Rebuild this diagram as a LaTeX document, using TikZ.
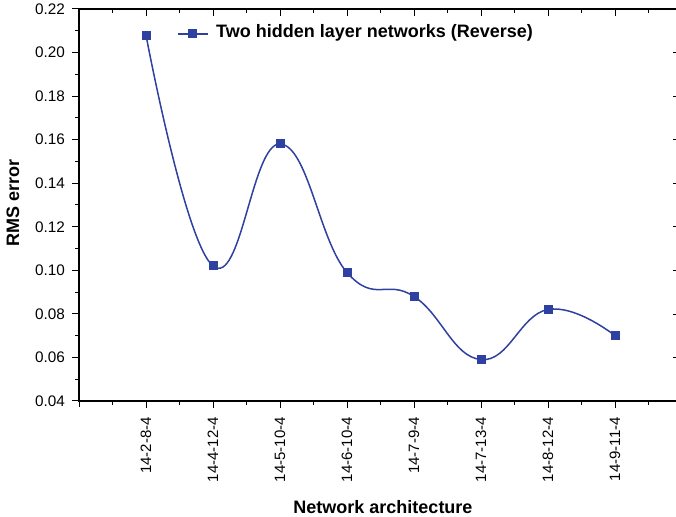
\documentclass[tikz,border=0pt]{standalone}
\usepackage{fontspec}
\setmainfont{Liberation Sans}
\definecolor{dblue}{RGB}{46,64,160}
\begin{document}
\begin{tikzpicture}[x=1pt,y=1pt,
  axis/.style={line width=1.2pt,black},
  tk/.style={line width=1pt,black},
  ticklab/.style={font=\fontsize{15.3}{16}\selectfont,inner sep=0pt},
  xlab/.style={font=\fontsize{15}{16}\selectfont,inner sep=0pt,rotate=90,anchor=east},
  title/.style={font=\bfseries\fontsize{18}{19}\selectfont,inner sep=0pt},
  marker/.style={draw=none,fill=dblue,minimum size=9pt,inner sep=0pt,rectangle},
  dataline/.style={dblue,line width=1.5pt}]
\useasboundingbox (0,0) rectangle (676,516);
% axes
\coordinate (bl) at (79,115);
\coordinate (br) at (676,115);
\coordinate (tl) at (79,507);
\coordinate (tr) at (676,507);
\draw[axis] (tl) -- (bl) -- (br);
\draw[axis] (tl) -- (tr);
% y ticks
\foreach \v/\l in {0.04/0.04,0.06/0.06,0.08/0.08,0.10/0.10,0.12/0.12,0.14/0.14,0.16/0.16,0.18/0.18,0.20/0.20,0.22/0.22}{
  \pgfmathsetmacro\yy{115+(\v-0.04)*2177.8}
  \draw[tk] (79,\yy) -- (72,\yy);
  \draw[tk,line width=0.7pt] (676,\yy) -- (673,\yy);
  \node[ticklab,anchor=east] (yl\l) at (65,\yy) {\l};
}
\foreach \v in {0.05,0.07,0.09,0.11,0.13,0.15,0.17,0.19,0.21}{
  \pgfmathsetmacro\yy{115+(\v-0.04)*2177.8}
  \draw[tk] (79,\yy) -- (75,\yy);
}
% x ticks
\foreach \i in {1,...,8}{
  \pgfmathsetmacro\xx{79+67*\i}
  \draw[tk] (\xx,115) -- (\xx,108);
  \draw[tk] (\xx,507) -- (\xx,500);
}
\foreach \i in {0.5,1.5,2.5,3.5,4.5,5.5,6.5,7.5,8.5}{
  \pgfmathsetmacro\xx{79+67*\i}
  \draw[tk] (\xx,115) -- (\xx,111);
  \draw[tk] (\xx,507) -- (\xx,503);
}
\draw[tk] (79,115) -- (79,109);
% x labels
\foreach \i/\l in {1/14-2-8-4,2/14-4-12-4,3/14-5-10-4,4/14-6-10-4,5/14-7-9-4,6/14-7-13-4,7/14-8-12-4,8/14-9-11-4}{
  \pgfmathsetmacro\xx{79+67*\i}
  \node[xlab] (xl\i) at (\xx,99) {\l};
}
% titles
\node[title,anchor=base] (xt) at (383,3) {Network architecture};
\node[title,rotate=90,anchor=base] (yt) at (19,313) {RMS error};
% data
\foreach \i/\v in {1/0.208,2/0.102,3/0.158,4/0.099,5/0.088,6/0.059,7/0.082,8/0.070}{
  \coordinate (c\i) at ({79+67*\i},{115+(\v-0.04)*2177.8});
}
\draw[dataline] plot[smooth,tension=0.75] coordinates {(c1) (c2) (c3) (c4) (c5) (c6) (c7) (c8)};
\foreach \i in {1,...,8}{
  \node[marker] (m\i) at (c\i) {};
}
% legend
\coordinate (la) at (178,482);
\coordinate (lb) at (208,482);
\draw[dataline] (la) -- (lb);
\node[marker] (lm) at (192,482) {};
\node[title,anchor=west] (lt) at (216,483) {Two hidden layer networks (Reverse)};
\end{tikzpicture}
\end{document}
